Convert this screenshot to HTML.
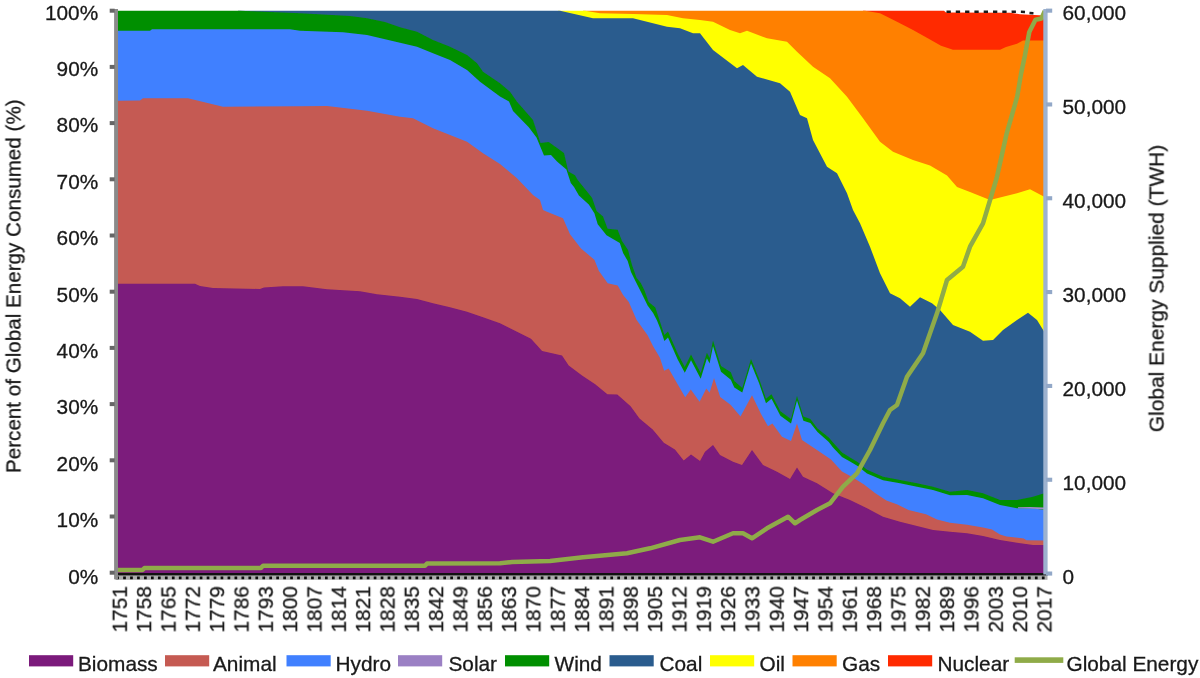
<!DOCTYPE html>
<html lang="en"><head><meta charset="utf-8"><title>Global energy consumption share 1751-2017</title>
<style>
html,body{margin:0;padding:0;background:#fff;}
body{width:1200px;height:678px;position:relative;overflow:hidden;font-family:"Liberation Sans",Arial,sans-serif;}
</style></head><body>
<svg width="1200" height="678" viewBox="0 0 1200 678" style="position:absolute;left:0;top:0">
<defs><filter id="tb" x="-5%" y="-20%" width="110%" height="140%"><feGaussianBlur stdDeviation="0.55"/></filter><filter id="ab" x="-1%" y="-1%" width="102%" height="102%"><feGaussianBlur stdDeviation="0.6"/></filter></defs>
<g filter="url(#ab)">
<polygon fill="#ff2a00" points="863.0,573.2 863.0,10.7 944.0,10.7 946.0,12.5 1010.0,12.7 1020.0,14.3 1044.2,15.5 1044.2,573.2"/>
<polygon fill="#ff8000" points="583.0,573.2 583.0,10.7 865.0,10.7 880.0,13.3 897.0,21.7 913.0,30.0 930.0,39.5 941.0,45.8 953.0,49.7 1000.0,49.7 1006.0,47.0 1017.0,43.7 1023.0,40.4 1044.2,40.4 1044.2,573.2"/>
<polygon fill="#ffff00" points="558.0,573.2 558.0,10.7 585.0,10.7 600.0,13.3 633.0,14.0 667.0,15.0 683.0,18.3 700.0,20.0 713.0,21.7 730.0,30.0 740.0,33.3 747.0,30.7 767.0,38.3 787.0,41.7 797.0,51.7 813.0,66.7 830.0,78.3 847.0,96.7 863.0,118.3 880.0,141.7 893.0,151.7 913.0,160.0 930.0,165.5 947.0,175.5 957.0,187.0 970.0,192.0 990.0,200.0 1003.0,196.7 1017.0,193.3 1030.0,189.3 1044.2,196.7 1044.2,573.2"/>
<polygon fill="#2a5c8e" points="238.0,573.2 238.0,10.7 560.0,10.7 593.0,18.3 633.0,18.3 667.0,26.7 680.0,28.3 693.0,33.3 700.0,33.3 713.0,50.0 737.0,68.3 743.0,65.0 757.0,76.7 780.0,83.3 790.0,91.7 800.0,115.0 807.0,118.3 813.0,140.0 827.0,166.7 837.0,173.3 847.0,193.3 853.0,210.0 860.0,223.3 870.0,246.7 880.0,273.3 890.0,293.3 900.0,298.3 910.0,306.7 920.0,297.3 932.0,303.3 940.0,310.0 953.0,325.0 970.0,331.7 983.0,340.7 993.0,340.0 1003.0,330.0 1017.0,320.0 1028.0,312.7 1037.0,320.0 1044.2,331.7 1044.2,573.2"/>
<polygon fill="#008f00" points="118.0,573.2 118.0,10.7 240.0,10.7 300.0,13.3 350.0,16.0 367.0,18.3 385.0,22.0 400.0,27.3 417.0,31.7 433.0,40.0 450.0,46.7 467.0,55.0 477.0,63.3 483.0,71.7 500.0,83.3 510.0,91.7 517.0,101.7 533.0,120.0 540.5,143.0 548.7,142.0 564.0,153.0 568.3,171.5 575.0,175.2 577.7,180.0 587.0,191.5 592.0,197.7 596.6,211.0 603.0,216.5 607.6,228.7 617.6,229.8 622.0,240.9 628.0,250.0 632.0,265.0 636.5,277.7 640.8,283.0 644.3,289.9 648.7,302.0 655.3,307.6 660.0,321.8 664.4,335.0 668.0,331.5 677.7,353.6 684.8,366.9 691.0,354.5 700.7,373.0 706.9,352.7 709.6,358.0 713.0,340.4 721.0,366.0 730.8,372.2 734.3,381.0 742.3,388.0 751.0,359.0 759.0,378.4 766.0,398.8 771.5,394.3 780.4,411.2 791.0,419.0 797.0,396.0 803.4,416.5 810.4,419.0 817.5,428.5 828.8,437.5 833.0,442.5 842.0,452.5 850.0,457.5 857.6,462.0 867.0,469.7 883.0,476.7 900.0,480.0 917.0,483.3 933.0,486.7 950.0,491.7 967.0,490.0 983.0,493.3 1000.0,500.0 1017.0,500.0 1033.0,496.7 1044.2,493.3 1044.2,573.2"/>
<polygon fill="#4080ff" points="118.0,573.2 118.0,30.7 150.0,30.7 152.0,29.3 290.0,29.3 300.0,30.7 343.0,32.3 367.0,35.0 400.0,42.7 417.0,46.7 433.0,53.3 450.0,60.0 467.0,70.0 480.0,81.7 500.0,96.5 509.0,101.5 513.0,111.0 529.0,127.6 536.5,137.6 544.0,155.5 551.0,155.0 557.0,161.5 566.4,169.5 570.8,183.0 574.0,187.0 578.9,195.5 588.8,204.4 594.4,213.2 597.7,224.3 606.5,235.3 619.8,243.1 623.1,253.1 627.7,261.0 631.0,272.0 635.4,281.0 641.0,292.1 647.6,305.4 653.1,313.1 657.0,320.5 660.0,328.1 664.4,341.0 668.0,337.5 677.7,359.5 684.8,372.7 691.0,360.3 700.7,378.7 706.9,358.3 709.6,363.6 713.0,346.0 721.0,371.8 730.8,379.7 734.3,387.6 742.3,392.5 751.0,363.5 759.0,382.9 766.0,403.3 771.5,398.8 780.4,415.7 791.0,423.5 797.0,400.5 803.4,420.8 810.4,422.9 817.5,432.0 828.8,442.1 833.0,447.5 842.0,457.0 850.0,461.5 857.6,465.9 867.0,473.4 883.0,480.2 900.0,483.3 917.0,486.7 933.0,490.1 950.0,495.2 967.0,495.0 983.0,498.3 1000.0,505.0 1017.0,508.3 1033.0,508.3 1044.2,510.0 1044.2,573.2"/>
<polygon fill="#c55a52" points="118.0,573.2 118.0,100.7 140.0,100.5 143.0,98.3 188.0,98.3 223.0,106.7 300.0,106.3 327.0,106.0 367.0,110.7 400.0,116.7 413.0,118.3 433.0,128.3 450.0,135.0 467.0,141.7 483.0,153.3 500.0,164.0 517.0,178.3 533.0,195.0 540.0,200.0 543.0,210.0 547.0,211.7 563.0,218.3 570.0,234.2 581.0,248.6 594.4,259.7 598.8,270.8 607.7,283.2 617.7,285.5 623.1,295.1 628.8,302.0 636.5,319.8 647.6,335.3 653.1,346.3 659.8,357.4 664.2,370.7 668.6,368.5 677.5,384.0 685.2,397.3 690.8,389.5 699.6,401.7 706.3,388.4 709.6,392.8 714.0,378.0 720.2,397.0 730.8,405.0 740.5,416.5 752.0,395.2 760.9,413.8 768.0,426.2 772.4,423.5 782.0,436.8 791.0,441.0 797.0,423.5 802.0,440.0 817.0,450.0 831.0,459.6 842.0,471.5 853.0,477.5 864.0,484.5 875.0,493.0 886.4,500.6 897.4,504.5 908.5,510.0 926.0,514.2 937.0,519.4 950.0,522.7 967.0,524.8 983.0,527.4 992.0,529.4 1000.0,534.4 1006.5,536.4 1023.7,538.4 1026.4,540.3 1044.2,540.6 1044.2,573.2"/>
<polygon fill="#7b1a7b" points="118.0,573.2 118.0,283.7 195.0,283.7 200.0,286.0 213.0,288.0 260.0,289.0 264.0,287.5 283.0,286.3 303.0,286.3 327.0,289.3 360.0,291.3 377.0,294.3 400.0,296.7 417.0,299.0 433.0,303.3 450.0,307.3 467.0,311.7 483.0,317.3 500.0,323.3 517.0,331.7 531.0,338.8 542.1,351.0 562.0,355.4 568.7,365.4 582.0,375.4 595.2,384.2 607.4,394.2 617.3,394.4 630.6,406.3 639.5,418.5 652.7,429.6 663.8,442.8 674.9,449.5 683.7,460.5 691.0,454.5 700.0,461.0 705.0,451.7 713.0,445.0 720.0,455.0 733.0,461.7 742.0,465.0 752.0,450.0 763.0,465.0 777.0,471.7 790.0,479.0 797.0,467.5 803.0,476.7 817.0,483.3 833.0,493.3 850.0,500.0 867.0,508.3 883.0,516.7 900.0,521.7 917.0,526.0 933.0,530.0 950.0,531.7 967.0,533.3 983.0,536.0 1000.0,540.0 1017.0,542.7 1033.0,545.0 1044.2,545.0 1044.2,573.2"/>
<polygon fill="#a48cc8" points="1018,507.2 1030,507.0 1044.2,507.6 1044.2,509.6 1030,508.6 1018,508.2"/>
<line x1="946.5" y1="11.7" x2="1021" y2="11.7" stroke="#1a1a1a" stroke-width="2.6" stroke-dasharray="4.3 5"/>
<path d="M1021,11.8 L1025,12 L1029,13 L1033,13.3 L1037,13.6" fill="none" stroke="#1a1a1a" stroke-width="2.4" stroke-dasharray="4 4.6"/>
<polyline fill="none" stroke="#8fab48" stroke-width="4.5" stroke-linejoin="round" points="117.6,570.1 142.5,570.1 144.5,567.9 261.0,567.9 263.0,565.8 425.0,565.8 427.0,563.5 500.0,563.3 512.0,562.0 550.0,561.0 583.0,557.3 627.0,553.3 650.0,548.3 680.0,540.0 700.0,537.3 713.0,541.7 733.0,533.3 743.0,533.3 752.0,538.3 767.0,528.3 788.0,516.7 795.0,523.3 800.0,520.0 817.0,510.0 830.0,503.3 843.0,486.7 857.0,473.3 870.0,450.0 883.0,423.3 890.0,410.0 897.0,405.0 907.0,376.7 923.0,353.3 937.0,313.3 947.0,280.0 963.0,266.7 970.0,246.7 983.0,223.3 996.7,178.0 1006.7,133.3 1017.2,96.7 1021.0,74.0 1024.8,56.0 1029.3,32.0 1035.5,19.8 1041.5,18.5 1044.8,11.0"/>
</g>
<rect x="115" y="573" width="932.5" height="3" fill="#111"/>
<rect x="114.5" y="575.4" width="933" height="4.4" fill="#adadad"/>
<line x1="116.2" y1="577.9" x2="1047.5" y2="577.9" stroke="#0a0a0a" stroke-width="2.9" stroke-dasharray="2.7 4.26" stroke-linecap="butt"/>
<rect x="114.1" y="9" width="3.9" height="570" fill="#8a8a8a"/>
<rect x="109.7" y="570.7" width="5" height="4" fill="#666"/>
<rect x="109.7" y="514.5" width="5" height="4" fill="#666"/>
<rect x="109.7" y="458.3" width="5" height="4" fill="#666"/>
<rect x="109.7" y="402.1" width="5" height="4" fill="#666"/>
<rect x="109.7" y="345.9" width="5" height="4" fill="#666"/>
<rect x="109.7" y="289.7" width="5" height="4" fill="#666"/>
<rect x="109.7" y="233.5" width="5" height="4" fill="#666"/>
<rect x="109.7" y="177.3" width="5" height="4" fill="#666"/>
<rect x="109.7" y="121.1" width="5" height="4" fill="#666"/>
<rect x="109.7" y="64.9" width="5" height="4" fill="#666"/>
<rect x="109.7" y="8.7" width="5" height="4" fill="#666"/>
<rect x="1043.3" y="9" width="4.3" height="565.5" fill="#9db2cf"/>
<rect x="1046" y="571.5" width="6.2" height="4.1" fill="#92a8c8"/>
<rect x="1046" y="477.7" width="6.2" height="4.1" fill="#92a8c8"/>
<rect x="1046" y="383.9" width="6.2" height="4.1" fill="#92a8c8"/>
<rect x="1046" y="290.0" width="6.2" height="4.1" fill="#92a8c8"/>
<rect x="1046" y="196.2" width="6.2" height="4.1" fill="#92a8c8"/>
<rect x="1046" y="102.4" width="6.2" height="4.1" fill="#92a8c8"/>
<rect x="1046" y="8.6" width="6.2" height="4.1" fill="#92a8c8"/>
<text x="98.2" y="583.7" text-anchor="end" font-family="Liberation Sans, Arial, sans-serif" font-size="20.8" fill="#1a1a1a" stroke="#1a1a1a" stroke-width="0.3" filter="url(#tb)">0%</text>
<text x="98.2" y="527.3" text-anchor="end" font-family="Liberation Sans, Arial, sans-serif" font-size="20.8" fill="#1a1a1a" stroke="#1a1a1a" stroke-width="0.3" filter="url(#tb)">10%</text>
<text x="98.2" y="470.9" text-anchor="end" font-family="Liberation Sans, Arial, sans-serif" font-size="20.8" fill="#1a1a1a" stroke="#1a1a1a" stroke-width="0.3" filter="url(#tb)">20%</text>
<text x="98.2" y="414.4" text-anchor="end" font-family="Liberation Sans, Arial, sans-serif" font-size="20.8" fill="#1a1a1a" stroke="#1a1a1a" stroke-width="0.3" filter="url(#tb)">30%</text>
<text x="98.2" y="358.0" text-anchor="end" font-family="Liberation Sans, Arial, sans-serif" font-size="20.8" fill="#1a1a1a" stroke="#1a1a1a" stroke-width="0.3" filter="url(#tb)">40%</text>
<text x="98.2" y="301.6" text-anchor="end" font-family="Liberation Sans, Arial, sans-serif" font-size="20.8" fill="#1a1a1a" stroke="#1a1a1a" stroke-width="0.3" filter="url(#tb)">50%</text>
<text x="98.2" y="245.2" text-anchor="end" font-family="Liberation Sans, Arial, sans-serif" font-size="20.8" fill="#1a1a1a" stroke="#1a1a1a" stroke-width="0.3" filter="url(#tb)">60%</text>
<text x="98.2" y="188.8" text-anchor="end" font-family="Liberation Sans, Arial, sans-serif" font-size="20.8" fill="#1a1a1a" stroke="#1a1a1a" stroke-width="0.3" filter="url(#tb)">70%</text>
<text x="98.2" y="132.3" text-anchor="end" font-family="Liberation Sans, Arial, sans-serif" font-size="20.8" fill="#1a1a1a" stroke="#1a1a1a" stroke-width="0.3" filter="url(#tb)">80%</text>
<text x="98.2" y="75.9" text-anchor="end" font-family="Liberation Sans, Arial, sans-serif" font-size="20.8" fill="#1a1a1a" stroke="#1a1a1a" stroke-width="0.3" filter="url(#tb)">90%</text>
<text x="98.2" y="19.5" text-anchor="end" font-family="Liberation Sans, Arial, sans-serif" font-size="20.8" fill="#1a1a1a" stroke="#1a1a1a" stroke-width="0.3" filter="url(#tb)">100%</text>
<text x="1062.5" y="583.5" font-family="Liberation Sans, Arial, sans-serif" font-size="20.8" fill="#1a1a1a" stroke="#1a1a1a" stroke-width="0.3" filter="url(#tb)">0</text>
<text x="1062.5" y="489.6" font-family="Liberation Sans, Arial, sans-serif" font-size="20.8" fill="#1a1a1a" stroke="#1a1a1a" stroke-width="0.3" filter="url(#tb)">10,000</text>
<text x="1062.5" y="395.6" font-family="Liberation Sans, Arial, sans-serif" font-size="20.8" fill="#1a1a1a" stroke="#1a1a1a" stroke-width="0.3" filter="url(#tb)">20,000</text>
<text x="1062.5" y="301.7" font-family="Liberation Sans, Arial, sans-serif" font-size="20.8" fill="#1a1a1a" stroke="#1a1a1a" stroke-width="0.3" filter="url(#tb)">30,000</text>
<text x="1062.5" y="207.7" font-family="Liberation Sans, Arial, sans-serif" font-size="20.8" fill="#1a1a1a" stroke="#1a1a1a" stroke-width="0.3" filter="url(#tb)">40,000</text>
<text x="1062.5" y="113.8" font-family="Liberation Sans, Arial, sans-serif" font-size="20.8" fill="#1a1a1a" stroke="#1a1a1a" stroke-width="0.3" filter="url(#tb)">50,000</text>
<text x="1062.5" y="19.8" font-family="Liberation Sans, Arial, sans-serif" font-size="20.8" fill="#1a1a1a" stroke="#1a1a1a" stroke-width="0.3" filter="url(#tb)">60,000</text>
<text transform="translate(126.8,632.5) rotate(-90)" font-family="Liberation Sans, Arial, sans-serif" font-size="20.8" fill="#1a1a1a" stroke="#1a1a1a" stroke-width="0.3" filter="url(#tb)">1751</text>
<text transform="translate(151.1,632.5) rotate(-90)" font-family="Liberation Sans, Arial, sans-serif" font-size="20.8" fill="#1a1a1a" stroke="#1a1a1a" stroke-width="0.3" filter="url(#tb)">1758</text>
<text transform="translate(175.5,632.5) rotate(-90)" font-family="Liberation Sans, Arial, sans-serif" font-size="20.8" fill="#1a1a1a" stroke="#1a1a1a" stroke-width="0.3" filter="url(#tb)">1765</text>
<text transform="translate(199.8,632.5) rotate(-90)" font-family="Liberation Sans, Arial, sans-serif" font-size="20.8" fill="#1a1a1a" stroke="#1a1a1a" stroke-width="0.3" filter="url(#tb)">1772</text>
<text transform="translate(224.1,632.5) rotate(-90)" font-family="Liberation Sans, Arial, sans-serif" font-size="20.8" fill="#1a1a1a" stroke="#1a1a1a" stroke-width="0.3" filter="url(#tb)">1779</text>
<text transform="translate(248.5,632.5) rotate(-90)" font-family="Liberation Sans, Arial, sans-serif" font-size="20.8" fill="#1a1a1a" stroke="#1a1a1a" stroke-width="0.3" filter="url(#tb)">1786</text>
<text transform="translate(272.8,632.5) rotate(-90)" font-family="Liberation Sans, Arial, sans-serif" font-size="20.8" fill="#1a1a1a" stroke="#1a1a1a" stroke-width="0.3" filter="url(#tb)">1793</text>
<text transform="translate(297.1,632.5) rotate(-90)" font-family="Liberation Sans, Arial, sans-serif" font-size="20.8" fill="#1a1a1a" stroke="#1a1a1a" stroke-width="0.3" filter="url(#tb)">1800</text>
<text transform="translate(321.5,632.5) rotate(-90)" font-family="Liberation Sans, Arial, sans-serif" font-size="20.8" fill="#1a1a1a" stroke="#1a1a1a" stroke-width="0.3" filter="url(#tb)">1807</text>
<text transform="translate(345.8,632.5) rotate(-90)" font-family="Liberation Sans, Arial, sans-serif" font-size="20.8" fill="#1a1a1a" stroke="#1a1a1a" stroke-width="0.3" filter="url(#tb)">1814</text>
<text transform="translate(370.1,632.5) rotate(-90)" font-family="Liberation Sans, Arial, sans-serif" font-size="20.8" fill="#1a1a1a" stroke="#1a1a1a" stroke-width="0.3" filter="url(#tb)">1821</text>
<text transform="translate(394.5,632.5) rotate(-90)" font-family="Liberation Sans, Arial, sans-serif" font-size="20.8" fill="#1a1a1a" stroke="#1a1a1a" stroke-width="0.3" filter="url(#tb)">1828</text>
<text transform="translate(418.8,632.5) rotate(-90)" font-family="Liberation Sans, Arial, sans-serif" font-size="20.8" fill="#1a1a1a" stroke="#1a1a1a" stroke-width="0.3" filter="url(#tb)">1835</text>
<text transform="translate(443.1,632.5) rotate(-90)" font-family="Liberation Sans, Arial, sans-serif" font-size="20.8" fill="#1a1a1a" stroke="#1a1a1a" stroke-width="0.3" filter="url(#tb)">1842</text>
<text transform="translate(467.4,632.5) rotate(-90)" font-family="Liberation Sans, Arial, sans-serif" font-size="20.8" fill="#1a1a1a" stroke="#1a1a1a" stroke-width="0.3" filter="url(#tb)">1849</text>
<text transform="translate(491.8,632.5) rotate(-90)" font-family="Liberation Sans, Arial, sans-serif" font-size="20.8" fill="#1a1a1a" stroke="#1a1a1a" stroke-width="0.3" filter="url(#tb)">1856</text>
<text transform="translate(516.1,632.5) rotate(-90)" font-family="Liberation Sans, Arial, sans-serif" font-size="20.8" fill="#1a1a1a" stroke="#1a1a1a" stroke-width="0.3" filter="url(#tb)">1863</text>
<text transform="translate(540.4,632.5) rotate(-90)" font-family="Liberation Sans, Arial, sans-serif" font-size="20.8" fill="#1a1a1a" stroke="#1a1a1a" stroke-width="0.3" filter="url(#tb)">1870</text>
<text transform="translate(564.8,632.5) rotate(-90)" font-family="Liberation Sans, Arial, sans-serif" font-size="20.8" fill="#1a1a1a" stroke="#1a1a1a" stroke-width="0.3" filter="url(#tb)">1877</text>
<text transform="translate(589.1,632.5) rotate(-90)" font-family="Liberation Sans, Arial, sans-serif" font-size="20.8" fill="#1a1a1a" stroke="#1a1a1a" stroke-width="0.3" filter="url(#tb)">1884</text>
<text transform="translate(613.4,632.5) rotate(-90)" font-family="Liberation Sans, Arial, sans-serif" font-size="20.8" fill="#1a1a1a" stroke="#1a1a1a" stroke-width="0.3" filter="url(#tb)">1891</text>
<text transform="translate(637.8,632.5) rotate(-90)" font-family="Liberation Sans, Arial, sans-serif" font-size="20.8" fill="#1a1a1a" stroke="#1a1a1a" stroke-width="0.3" filter="url(#tb)">1898</text>
<text transform="translate(662.1,632.5) rotate(-90)" font-family="Liberation Sans, Arial, sans-serif" font-size="20.8" fill="#1a1a1a" stroke="#1a1a1a" stroke-width="0.3" filter="url(#tb)">1905</text>
<text transform="translate(686.4,632.5) rotate(-90)" font-family="Liberation Sans, Arial, sans-serif" font-size="20.8" fill="#1a1a1a" stroke="#1a1a1a" stroke-width="0.3" filter="url(#tb)">1912</text>
<text transform="translate(710.8,632.5) rotate(-90)" font-family="Liberation Sans, Arial, sans-serif" font-size="20.8" fill="#1a1a1a" stroke="#1a1a1a" stroke-width="0.3" filter="url(#tb)">1919</text>
<text transform="translate(735.1,632.5) rotate(-90)" font-family="Liberation Sans, Arial, sans-serif" font-size="20.8" fill="#1a1a1a" stroke="#1a1a1a" stroke-width="0.3" filter="url(#tb)">1926</text>
<text transform="translate(759.4,632.5) rotate(-90)" font-family="Liberation Sans, Arial, sans-serif" font-size="20.8" fill="#1a1a1a" stroke="#1a1a1a" stroke-width="0.3" filter="url(#tb)">1933</text>
<text transform="translate(783.8,632.5) rotate(-90)" font-family="Liberation Sans, Arial, sans-serif" font-size="20.8" fill="#1a1a1a" stroke="#1a1a1a" stroke-width="0.3" filter="url(#tb)">1940</text>
<text transform="translate(808.1,632.5) rotate(-90)" font-family="Liberation Sans, Arial, sans-serif" font-size="20.8" fill="#1a1a1a" stroke="#1a1a1a" stroke-width="0.3" filter="url(#tb)">1947</text>
<text transform="translate(832.4,632.5) rotate(-90)" font-family="Liberation Sans, Arial, sans-serif" font-size="20.8" fill="#1a1a1a" stroke="#1a1a1a" stroke-width="0.3" filter="url(#tb)">1954</text>
<text transform="translate(856.8,632.5) rotate(-90)" font-family="Liberation Sans, Arial, sans-serif" font-size="20.8" fill="#1a1a1a" stroke="#1a1a1a" stroke-width="0.3" filter="url(#tb)">1961</text>
<text transform="translate(881.1,632.5) rotate(-90)" font-family="Liberation Sans, Arial, sans-serif" font-size="20.8" fill="#1a1a1a" stroke="#1a1a1a" stroke-width="0.3" filter="url(#tb)">1968</text>
<text transform="translate(905.4,632.5) rotate(-90)" font-family="Liberation Sans, Arial, sans-serif" font-size="20.8" fill="#1a1a1a" stroke="#1a1a1a" stroke-width="0.3" filter="url(#tb)">1975</text>
<text transform="translate(929.8,632.5) rotate(-90)" font-family="Liberation Sans, Arial, sans-serif" font-size="20.8" fill="#1a1a1a" stroke="#1a1a1a" stroke-width="0.3" filter="url(#tb)">1982</text>
<text transform="translate(954.1,632.5) rotate(-90)" font-family="Liberation Sans, Arial, sans-serif" font-size="20.8" fill="#1a1a1a" stroke="#1a1a1a" stroke-width="0.3" filter="url(#tb)">1989</text>
<text transform="translate(978.4,632.5) rotate(-90)" font-family="Liberation Sans, Arial, sans-serif" font-size="20.8" fill="#1a1a1a" stroke="#1a1a1a" stroke-width="0.3" filter="url(#tb)">1996</text>
<text transform="translate(1002.8,632.5) rotate(-90)" font-family="Liberation Sans, Arial, sans-serif" font-size="20.8" fill="#1a1a1a" stroke="#1a1a1a" stroke-width="0.3" filter="url(#tb)">2003</text>
<text transform="translate(1027.1,632.5) rotate(-90)" font-family="Liberation Sans, Arial, sans-serif" font-size="20.8" fill="#1a1a1a" stroke="#1a1a1a" stroke-width="0.3" filter="url(#tb)">2010</text>
<text transform="translate(1051.4,632.5) rotate(-90)" font-family="Liberation Sans, Arial, sans-serif" font-size="20.8" fill="#1a1a1a" stroke="#1a1a1a" stroke-width="0.3" filter="url(#tb)">2017</text>
<text transform="translate(20.5,473) rotate(-90)" textLength="373.6" lengthAdjust="spacingAndGlyphs" font-family="Liberation Sans, Arial, sans-serif" font-size="20.8" fill="#1a1a1a" stroke="#1a1a1a" stroke-width="0.3" filter="url(#tb)">Percent of Global Energy Consumed (%)</text>
<text transform="translate(1163.6,432.2) rotate(-90)" textLength="287.4" lengthAdjust="spacingAndGlyphs" font-family="Liberation Sans, Arial, sans-serif" font-size="20.8" fill="#1a1a1a" stroke="#1a1a1a" stroke-width="0.3" filter="url(#tb)">Global Energy Supplied (TWH)</text>
<rect x="29" y="655.2" width="44.2" height="11.2" fill="#7b1a7b"/>
<text x="78" y="670.8" font-family="Liberation Sans, Arial, sans-serif" font-size="20.8" fill="#1a1a1a" stroke="#1a1a1a" stroke-width="0.3" filter="url(#tb)">Biomass</text>
<rect x="165" y="655.2" width="44.2" height="11.2" fill="#c55a52"/>
<text x="213" y="670.8" font-family="Liberation Sans, Arial, sans-serif" font-size="20.8" fill="#1a1a1a" stroke="#1a1a1a" stroke-width="0.3" filter="url(#tb)">Animal</text>
<rect x="286.5" y="655.2" width="44.2" height="11.2" fill="#4080ff"/>
<text x="335.5" y="670.8" font-family="Liberation Sans, Arial, sans-serif" font-size="20.8" fill="#1a1a1a" stroke="#1a1a1a" stroke-width="0.3" filter="url(#tb)">Hydro</text>
<rect x="398" y="655.2" width="44.2" height="11.2" fill="#9b80c4"/>
<text x="448.5" y="670.8" font-family="Liberation Sans, Arial, sans-serif" font-size="20.8" fill="#1a1a1a" stroke="#1a1a1a" stroke-width="0.3" filter="url(#tb)">Solar</text>
<rect x="505" y="655.2" width="44.2" height="11.2" fill="#008f00"/>
<text x="554.5" y="670.8" font-family="Liberation Sans, Arial, sans-serif" font-size="20.8" fill="#1a1a1a" stroke="#1a1a1a" stroke-width="0.3" filter="url(#tb)">Wind</text>
<rect x="609.5" y="655.2" width="44.2" height="11.2" fill="#2a5c8e"/>
<text x="659.5" y="670.8" font-family="Liberation Sans, Arial, sans-serif" font-size="20.8" fill="#1a1a1a" stroke="#1a1a1a" stroke-width="0.3" filter="url(#tb)">Coal</text>
<rect x="710" y="655.2" width="44.2" height="11.2" fill="#ffff00"/>
<text x="759.5" y="670.8" font-family="Liberation Sans, Arial, sans-serif" font-size="20.8" fill="#1a1a1a" stroke="#1a1a1a" stroke-width="0.3" filter="url(#tb)">Oil</text>
<rect x="792.5" y="655.2" width="44.2" height="11.2" fill="#ff8000"/>
<text x="842" y="670.8" font-family="Liberation Sans, Arial, sans-serif" font-size="20.8" fill="#1a1a1a" stroke="#1a1a1a" stroke-width="0.3" filter="url(#tb)">Gas</text>
<rect x="888" y="655.2" width="44.2" height="11.2" fill="#ff2a00"/>
<text x="937.5" y="670.8" font-family="Liberation Sans, Arial, sans-serif" font-size="20.8" fill="#1a1a1a" stroke="#1a1a1a" stroke-width="0.3" filter="url(#tb)">Nuclear</text>
<rect x="1014.7" y="657.3" width="48.6" height="5.6" fill="#8fab48"/>
<text x="1066.5" y="670.8" font-family="Liberation Sans, Arial, sans-serif" font-size="20.8" fill="#1a1a1a" stroke="#1a1a1a" stroke-width="0.3" filter="url(#tb)">Global Energy</text>
</svg>
</body></html>
